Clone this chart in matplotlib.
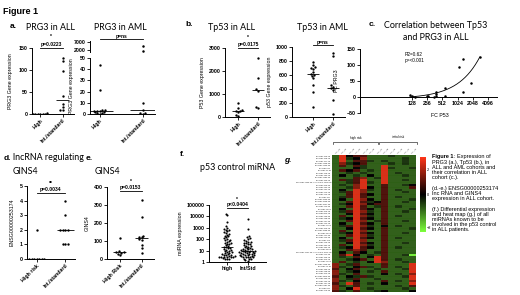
import numpy as np
import matplotlib
matplotlib.use('Agg')
import matplotlib.pyplot as plt
import seaborn as sns
from matplotlib.colors import LinearSegmentedColormap, TwoSlopeNorm
from matplotlib.ticker import NullLocator

plt.rcParams['font.family'] = ['Liberation Sans', 'DejaVu Sans']
plt.rcParams['font.weight'] = 'bold'
TITLE_FONT = ['Lato', 'DejaVu Sans']

# ---- data ----
# a. PRG3 in ALL / AML
prg3_all_high = [3, 2, 1, 1, 1, 0, 0, 0]
prg3_all_int = [128, 120, 97, 42, 22, 15, 10, 8]
prg3_aml_high = [44, 21, 4, 3.5, 3, 3, 2.5, 2, 1.5, 1, 0.5, 0]
prg3_aml_int = [4500, 1800, 9.5, 3.5, 1, 0.5, 0.2]
# b. Tp53 in ALL / AML
tp53_all_high = [600, 400, 300, 280, 250, 200, 100, 50]
tp53_all_int = [2550, 1700, 1200, 1150, 450, 400]
tp53_aml_high = [780, 740, 710, 700, 690, 640, 620, 600, 590, 560, 450, 360, 140]
tp53_aml_int = [910, 870, 450, 430, 410, 390, 240, 50]
# c. correlation Tp53 vs PRG3 (fold change)
fc_p53 = [1290, 1120, 2830, 1870, 1290, 590, 390, 390, 380, 256, 270, 350, 117, 128, 590, 150]
fc_prg3 = [119, 95, 125, 43, 15, 28, 15, 9, 3, 3, 2, 0, 6, 3, 3, 0]
# d. lncRNA ENSG00000253174, e. GINS4
lnc_high = [2, 0, 0, 0, 0, 0, 0, 0]
lnc_int = [4, 3, 2, 2, 2, 2, 1, 1, 1]
gins4_high = [117, 42, 40, 38, 36, 30, 25]
gins4_int = [330, 235, 130, 125, 120, 110, 105, 80, 60, 35]
# f. p53 control miRNA expression
mirna_high = [17000, 12000, 3000, 1500, 1000, 800, 700, 600, 500, 400, 350, 300, 250, 200,
              180, 150, 120, 100, 90, 80, 70, 60, 50, 45, 40, 35, 30, 25, 22, 20, 18, 16,
              14, 12, 11, 10, 9, 8, 7, 6.5, 6, 5.5, 5, 4.5, 4, 4, 3.5, 3.5, 3, 3, 3, 2.8,
              2.5, 2.5, 2.2, 2, 2, 1.8]
mirna_int = [6000, 800, 200, 150, 120, 100, 80, 70, 60, 55, 50, 45, 40, 35, 30, 28, 25, 22,
             20, 18, 16, 15, 14, 13, 12, 11, 10, 10, 9, 9, 8, 8, 7, 7, 6.5, 6, 6, 5.5, 5, 5,
             4.5, 4.5, 4, 4, 3.5, 3.5, 3, 3, 3, 2.5, 2.5, 2, 2, 1.8, 1.5, 1.3]
# g. heat map (z-scores), one string per miRNA, one letter per patient
level = {'G': -2.2, 'g': -0.85, 'd': -0.45, 'k': 0.0, 'm': 0.9, 'r': 1.6, 'R': 2.6}
heat_rows = [
    "gRkmmgggdggg", "gRdkrgggggdg", "gRgmmdgdggdg", "grdkmgggdgdg", "gmgmdggRgggg",
    "gggkdggRdggd", "gmkmgdgRgggg", "ggdgdggRgdgg", "gkgdgkgRggdg", "gggmrgdRgggg",
    "gmdmRggRggdg", "ggdmRdgRgggg", "gdgrRggmggdk", "ggdrRkgmgggm", "gkgRrdgmgdgg",
    "gdmRrggmggdg", "ggmRmkgmgggg", "gdmRmggmgdgg", "gkgRrkgmgggd", "ggmRmdkmggdg",
    "gdkRrkmmgggg", "ggmRmgdmgdgg", "gkgRmkgmgggd", "gdmRrdgmggdg", "ggkRmkgmgggg",
    "gmgRrdgmgdgg", "gdkRmkgmgggg", "ggmRrgdmggdg", "gkgRmkgmgggg", "gdmRrdgkgdgg",
    "ggkRmkgmgggd", "gmgRrggmgggg", "gdkRmkgmggdg", "ggmRrdgmgggg", "gkgRmkgmgdgg",
    "gdmRrggmgggg", "ggkRmkgmggdg", "gmgRrdgmgggg", "gdkRmkgmgdgg", "ggmrmggmgggg",
    "gkgmkgdmgggg", "gmRkgdgmggdG", "gdgmgkRmgggg", "ggdkmgRmgdgg", "gmgdgkRrggdg",
    "rgdmgggmgggR", "rdgkmdgmgdgR", "mgkmggdgggdR", "rgdkgdgmgggR", "rdgmgggkgdgr",
    "mgkdmdggggdR", "rgdmggdggggR", "rdgkgggmgdgr", "mgRmgdgkgggR", "rdgmgggggdgm",
    "rgkRgdggggdg", "mdgmggdkgggk",
]
mirna_names = [
    "hsa-miR-34a-5p", "hsa-miR-34b-5p", "hsa-miR-34c-5p", "hsa-miR-125b-5p", "hsa-miR-125a-5p",
    "hsa-miR-504", "hsa-miR-25-3p", "hsa-miR-30d-5p", "hsa-miR-380-5p", "hsa-miR-1285-3p",
    "hsa-miR-33a-5p", "hsa-miR-1306-5p /// hsa-miR-1306-3p", "hsa-miR-92a-3p", "hsa-miR-192-5p",
    "hsa-miR-194-5p", "hsa-miR-215-5p", "hsa-miR-145-5p", "hsa-miR-107", "hsa-miR-200a-3p",
    "hsa-miR-200b-3p", "hsa-miR-200c-3p", "hsa-miR-143-3p", "hsa-miR-16-5p", "hsa-miR-15a-5p",
    "hsa-miR-605-5p", "hsa-miR-29a-3p", "hsa-miR-29b-3p", "hsa-miR-29c-3p", "hsa-miR-122-5p",
    "hsa-miR-17-5p", "hsa-miR-20a-5p", "hsa-miR-106b-5p", "hsa-miR-93-5p", "hsa-miR-221-3p",
    "hsa-miR-222-3p", "hsa-miR-375", "hsa-miR-149-5p", "hsa-miR-182-5p", "hsa-miR-183-5p",
    "hsa-miR-96-5p", "hsa-miR-3151-5p /// hsa-miR-3151-3p", "hsa-miR-214-3p", "hsa-miR-339-5p",
    "hsa-miR-155-5p", "hsa-miR-21-5p", "hsa-miR-1228-3p", "hsa-miR-22-3p", "hsa-miR-18a-5p",
    "hsa-miR-19b-3p", "hsa-miR-150-5p", "hsa-miR-181a-5p", "hsa-miR-185-5p", "hsa-miR-195-5p",
    "hsa-miR-497-5p", "hsa-miR-518c-5p", "hsa-miR-641", "hsa-miR-27a-3p",
]
patients = ["ALL_01", "ALL_02", "ALL_03", "ALL_04", "ALL_05", "ALL_06", "ALL_07",
            "ALL_08", "ALL_09", "ALL_10", "ALL_11", "ALL_12"]

W, H = 520, 295
fig = plt.figure(figsize=(5.2, 2.95), dpi=100)


def px_axes(x0, y0, x1, y1):
    return fig.add_axes([x0 / W, 1 - y1 / H, (x1 - x0) / W, (y1 - y0) / H])


def ftext(x, y, s, **kw):
    return fig.text(x / W, 1 - y / H, s, **kw)


def fline(xs, ys, **kw):
    fig.add_artist(plt.Line2D([x / W for x in xs], [1 - y / H for y in ys],
                              transform=fig.transFigure, **kw))


def style(ax, fs=3.8):
    for s in ['top', 'right']:
        ax.spines[s].set_visible(False)
    for s in ['left', 'bottom']:
        ax.spines[s].set_linewidth(0.7)
    ax.tick_params(length=2, width=0.6, labelsize=fs, pad=1)


def dots(ax, groups, xlim, ylim, log=False, size=1.7, med=True):
    if log:
        ax.set_yscale('log')
    ax.set_xlim(xlim)
    ax.set_ylim(ylim)
    xs = np.concatenate([np.full(len(g), i, dtype=float) for i, g in enumerate(groups)])
    ys = np.concatenate([np.asarray(g, dtype=float) for g in groups])
    sns.swarmplot(x=xs, y=ys, ax=ax, color='k', size=size, native_scale=True,
                  warn_thresh=1.0)
    ax.set_xlim(xlim)
    ax.set_ylim(ylim)
    if med:
        for i, g in enumerate(groups):
            ax.hlines(np.median(g), i - 0.3, i + 0.3, color='k', lw=0.6)
    style(ax)


def xcats(ax, labels, rot=45):
    ax.set_xticks(range(len(labels)))
    if rot:
        ax.set_xticklabels(labels, rotation=rot, ha='right', rotation_mode='anchor')
    else:
        ax.set_xticklabels(labels)


def sig(ax, y_line, y_text, text, star=None, y_star=None):
    ax.plot([0, 1], [y_line, y_line], color='k', lw=0.6, clip_on=False)
    ax.text(0.5, y_text, text, ha='center', va='bottom', fontsize=3.6, clip_on=False)
    if star:
        ax.text(0.5, y_star, star, ha='center', va='bottom', fontsize=3.6, clip_on=False)


def title(x, y, s, ha='center'):
    ftext(x, y, s, fontsize=6.4, family=TITLE_FONT, weight='normal', ha=ha, va='center')


def panel_label(x, y, s, **kw):
    ftext(x, y, s, fontsize=6, weight='bold', va='center', **kw)


# ---- titles ----
ftext(3, 12, "Figure 1", fontsize=6.5, weight='bold', va='center')
panel_label(10, 27, "a.")
title(51, 27, "PRG3 in ALL")
title(120, 27, "PRG3 in AML")
panel_label(185, 25, "b.")
title(232, 27, "Tp53 in ALL")
title(322, 27, "Tp53 in AML")
panel_label(369, 24, "c.")
title(436, 25, "Correlation between Tp53")
title(436, 38, "and PRG3 in ALL")
panel_label(4, 158, "d.")
title(13, 158, "lncRNA regulating", ha='left')
title(13, 172, "GINS4", ha='left')
panel_label(86, 158, "e.")
title(95, 172, "GINS4", ha='left')
panel_label(180, 155, "f.")
title(238, 167, "p53 control miRNA")
panel_label(284, 160, "g.", style='italic')

# ---- a. PRG3 in ALL ----
ax = px_axes(32, 48, 74, 114)
dots(ax, [prg3_all_high, prg3_all_int], (-0.36, 1.5), (0, 150))
ax.set_yticks([0, 50, 100, 150])
xcats(ax, ["High", "Int./standard"])
ax.set_ylabel("PRG3 Gene expression", fontsize=3.8, labelpad=4)
sig(ax, 150, 152, "p=0.0223", "*", 170)

# ---- PRG3 in AML (broken axis) ----
ax = px_axes(90, 58, 155, 114)
dots(ax, [[v for v in prg3_aml_high if v <= 50], [v for v in prg3_aml_int if v <= 50]],
     (-0.23, 1.28), (0, 50), med=False)
for i, g in enumerate([prg3_aml_high, prg3_aml_int]):
    ax.hlines(np.median(g), i - 0.3, i + 0.3, color='k', lw=0.6)
ax.set_yticks([0, 10, 20, 30, 40, 50])
xcats(ax, ["High", "Int./standard"])
ax.set_ylabel("PRG3 Gene expression", fontsize=3.8, labelpad=4)
axt = px_axes(90, 41, 155, 52)
axt.set_xlim(-0.23, 1.28)
axt.set_ylim(1000, 7500)
top = [v for v in prg3_aml_int if v > 50]
axt.scatter(np.ones(len(top)), top, s=3.2, c='k', lw=0)
style(axt)
axt.spines['bottom'].set_visible(False)
axt.set_xticks([])
axt.set_yticks([2000, 7000])
axt.plot([0, 1], [8500, 8500], color='k', lw=0.6, clip_on=False)
axt.text(0.5, 8700, "p=ns", ha='center', va='bottom', fontsize=3.6, clip_on=False)

# ---- b. Tp53 in ALL ----
ax = px_axes(225, 48, 270, 117)
dots(ax, [tp53_all_high, tp53_all_int], (-0.65, 1.6), (0, 3000))
ax.set_yticks([0, 1000, 2000, 3000])
xcats(ax, ["High", "Int./standard"])
ax.set_ylabel("P53 Gene expression", fontsize=3.8, labelpad=3)
sig(ax, 3000, 3050, "p=0.0175", "*", 3350)

# ---- Tp53 in AML ----
ax = px_axes(292, 47, 345, 117)
dots(ax, [tp53_aml_high, tp53_aml_int], (-1.05, 1.6), (0, 1000))
ax.set_yticks(range(0, 1001, 200))
xcats(ax, ["High", "Int./standard"])
ax.set_ylabel("p53 Gene expression", fontsize=3.8, labelpad=3)
sig(ax, 1030, 1035, "p=ns")

# ---- c. correlation ----
ax = px_axes(360, 49, 497, 113)
ax.set_xscale('log', base=2)
ax.scatter(fc_p53, fc_prg3, s=3.2, c='k', lw=0, zorder=3)
coef = np.polyfit(fc_p53, fc_prg3, 1)
xx = np.linspace(min(fc_p53), max(fc_p53), 200)
ax.plot(xx, np.polyval(coef, xx), color='k', lw=0.6)
ax.set_xlim(2 ** 3.58, 2 ** 12.6)
ax.set_ylim(-50, 150)
style(ax)
ax.spines['bottom'].set_position(('data', 0))
ax.set_xticks([128, 256, 512, 1024, 2048, 4096])
ax.set_xticklabels(["128", "256", "512", "1024", "2048", "4096"])
ax.xaxis.set_minor_locator(NullLocator())
ax.set_yticks([-50, 0, 50, 100, 150])
ax.set_xlabel("FC P53", fontsize=3.8)
ax.xaxis.set_label_coords(0.58, 0.0)
ax.set_ylabel("FC PRG3", fontsize=3.8)
ax.yaxis.set_label_coords(-0.15, 0.5)
ax.text(2 ** 6.5, 140, "R2=0.62\np=<0.001", fontsize=3.4, weight='normal', va='top', linespacing=1.1)

# ---- d. lncRNA ----
ax = px_axes(27, 186, 75, 259)
dots(ax, [lnc_high, lnc_int], (-0.34, 1.35), (0, 5))
ax.set_yticks(range(6))
xcats(ax, ["High risk", "Int./standard"])
ax.set_ylabel("ENSG00000253174", fontsize=3.8, labelpad=4)
sig(ax, 4.55, 4.6, "p=0.0034", "**", 5.0)

# ---- e. GINS4 ----
ax = px_axes(107, 187, 154, 259)
dots(ax, [gins4_high, gins4_int], (-0.6, 1.57), (0, 400))
ax.set_yticks(range(0, 401, 100))
xcats(ax, ["High Risk", "Int./standard"])
ax.set_ylabel("GINS4", fontsize=3.8, labelpad=3)
sig(ax, 380, 385, "p=0.0153", "*", 415)

# ---- f. miRNA ----
ax = px_axes(209, 205, 266, 262)
dots(ax, [mirna_high, mirna_int], (-0.88, 1.9), (1, 100000), log=True, size=1.5)
ax.set_yticks([1, 10, 100, 1000, 10000, 100000])
ax.set_yticklabels(["1", "10", "100", "1000", "10000", "100000"])
ax.yaxis.set_minor_locator(NullLocator())
xcats(ax, ["high", "Int/Std"], rot=0)
ax.set_ylabel("miRNA expression", fontsize=3.8, labelpad=3)
ax.plot([0, 1], [60000, 60000], color='k', lw=0.6, clip_on=False)
ax.text(0.5, 70000, "p<0.0404", ha='center', va='bottom', fontsize=3.6, clip_on=False)
ax.text(0.5, 200000, "*", ha='center', va='bottom', fontsize=3.6, clip_on=False)

# ---- g. heat map ----
mat = np.array([[level[c] for c in row] for row in heat_rows])
cmap = LinearSegmentedColormap.from_list('gkr', ['#7dff3c', '#000000', '#ff3418'])
norm = TwoSlopeNorm(vmin=-2.3, vcenter=0, vmax=3.0)
ax = px_axes(332, 155, 416, 292)
im = ax.imshow(mat, cmap=cmap, norm=norm, aspect='auto', interpolation='nearest')
ax.hlines(np.arange(mat.shape[0] - 1) + 0.5, -0.5, mat.shape[1] - 0.5,
          color='#777777', lw=0.15, alpha=0.5)
ax.set_yticks(np.arange(mat.shape[0]))
ax.set_yticklabels(mirna_names, fontsize=1.5, weight='normal', color='#333333')
ax.set_xticks(np.arange(mat.shape[1]))
ax.set_xticklabels(patients, fontsize=1.5, weight='normal', rotation=45, ha='left',
                   rotation_mode='anchor', color='#333333')
ax.xaxis.tick_top()
ax.tick_params(length=0, pad=0.5)
for s in ax.spines.values():
    s.set_visible(False)
# group brackets
for x0, x1, lab in [(333, 378, "high risk"), (379, 417, "inital risk")]:
    fline([x0, x0, x1, x1], [143.5, 141.5, 141.5, 143.5], color='#333333', lw=0.5)
    ftext((x0 + x1) / 2, 137.5, lab, fontsize=2.2, weight='normal', ha='center', va='center')

cax = px_axes(420, 157, 426, 232)
cb = fig.colorbar(im, cax=cax, ticks=[-2, 0, 2])
cb.outline.set_visible(False)
cax.tick_params(labelsize=2.8, length=0, pad=0.5)
for lab in cax.get_yticklabels():
    lab.set_fontweight('normal')

# ---- caption ----
cap_kw = dict(fontsize=4, va='top')
t = ftext(432, 154, "Figure 1", weight='bold', **cap_kw)
fig.canvas.draw()
bb = t.get_window_extent()
ftext(432 + bb.width + 0.3, 154, ": Expression of", weight='normal', **cap_kw)
caption = ("PRG3 (a.), Tp53 (b.), in\nALL and AML cohorts and\ntheir correlation in ALL\n"
           "cohort (c.).\n\n(d.-e.) ENSG00000253174\nInc RNA and GINS4\n"
           "expression in ALL cohort.\n\n(f.) Differential expression\nand heat map (g.) of all\n"
           "miRNAs known to be\ninvolved in the p53 control\nin ALL patients.")
ftext(432, 159.8, caption, weight='normal', linespacing=1.05, **cap_kw)

fig.savefig("out.png", dpi=100)
